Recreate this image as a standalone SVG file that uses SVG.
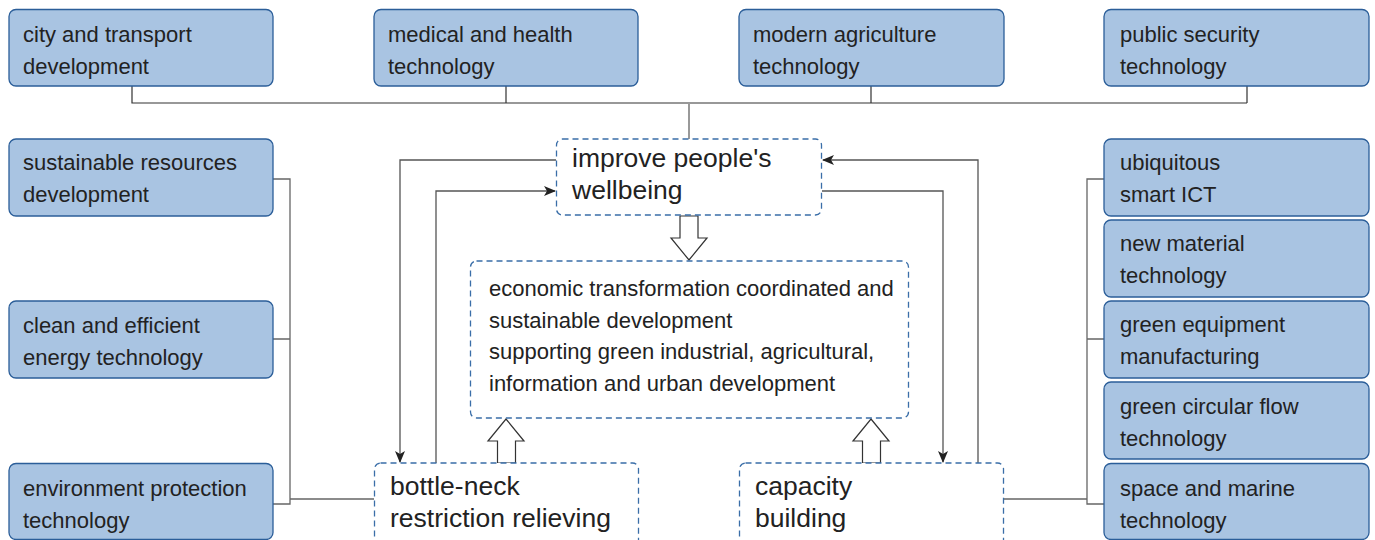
<svg xmlns="http://www.w3.org/2000/svg" width="1375" height="540" viewBox="0 0 1375 540">
<defs>
<style>
.box{fill:#a9c4e2;stroke:#2b5e99;stroke-width:1.3}
.dbox{fill:#fff;stroke:#3a6ea8;stroke-width:1.3;stroke-dasharray:6 4}
.t{font-family:"Liberation Sans",Arial,sans-serif;font-size:22px;fill:#222}
.tl{font-family:"Liberation Sans",Arial,sans-serif;font-size:26.5px;fill:#222}
.ln{fill:none;stroke:#333;stroke-width:1.2}
.lg{fill:none;stroke:#666;stroke-width:1.3}
.la{fill:none;stroke:#555;stroke-width:1.3}
.blk{fill:#fff;stroke:#333;stroke-width:1.2}
</style>
<marker id="ah" viewBox="0 0 12 10" refX="11" refY="5" markerWidth="12" markerHeight="10" markerUnits="userSpaceOnUse" orient="auto">
<path d="M0,0 L12,5 L0,10 L3,5 Z" fill="#222"/>
</marker>
</defs>
<rect width="1375" height="540" fill="#fff"/>

<g id="connectors">
<path class="ln" d="M132,86 V103 H1247 M506,86 V103 M871,86 V103 M1247,86 V103"/>
<path d="M689,103 V139" fill="none" stroke="#999" stroke-width="2"/>
<path class="lg" d="M273,179 H290 V504 H273 M273,339 H290 M290,499 H374"/>
<path class="lg" d="M1104,179 H1087 V504 H1104 M1104,339 H1087 M1087,499 H1004"/>
<path class="la" d="M556,160 H400 V462" marker-end="url(#ah)"/>
<path class="la" d="M436,463 V191 H555" marker-end="url(#ah)"/>
<path class="la" d="M978,463 V160 H823" marker-end="url(#ah)"/>
<path class="la" d="M822,191 H943 V462" marker-end="url(#ah)"/>
<polygon class="blk" points="680,216 698,216 698,238 707,238 689,260 671,238 680,238"/>
<polygon class="blk" points="506,419 524,441 515.5,441 515.5,463 497.5,463 497.5,441 488,441"/>
<polygon class="blk" points="871,419 889,441 880.5,441 880.5,463 862.5,463 862.5,441 853,441"/>
</g>

<g id="n-city"><rect class="box" x="9" y="9.5" width="264" height="76.5" rx="7"/><text class="t" x="23" y="42">city and transport</text><text class="t" x="23" y="74">development</text></g>
<g id="n-medical"><rect class="box" x="374" y="9.5" width="264" height="76.5" rx="7"/><text class="t" x="388" y="42">medical and health</text><text class="t" x="388" y="74">technology</text></g>
<g id="n-agri"><rect class="box" x="739" y="9.5" width="265" height="76.5" rx="7"/><text class="t" x="753" y="42">modern agriculture</text><text class="t" x="753" y="74">technology</text></g>
<g id="n-security"><rect class="box" x="1104" y="9.5" width="265" height="76.5" rx="7"/><text class="t" x="1120" y="42">public security</text><text class="t" x="1120" y="74">technology</text></g>

<g id="n-resources"><rect class="box" x="9" y="139" width="264" height="77" rx="7"/><text class="t" x="23" y="170">sustainable resources</text><text class="t" x="23" y="202">development</text></g>
<g id="n-energy"><rect class="box" x="9" y="301" width="264" height="77" rx="7"/><text class="t" x="23" y="333">clean and efficient</text><text class="t" x="23" y="365">energy technology</text></g>
<g id="n-env"><rect class="box" x="9" y="463.5" width="264" height="76" rx="7"/><text class="t" x="23" y="496">environment protection</text><text class="t" x="23" y="528">technology</text></g>

<g id="n-ict"><rect class="box" x="1104" y="139" width="265" height="77" rx="7"/><text class="t" x="1120" y="170">ubiquitous</text><text class="t" x="1120" y="202">smart ICT</text></g>
<g id="n-material"><rect class="box" x="1104" y="220" width="265" height="77" rx="7"/><text class="t" x="1120" y="251">new material</text><text class="t" x="1120" y="283">technology</text></g>
<g id="n-equip"><rect class="box" x="1104" y="301" width="265" height="77" rx="7"/><text class="t" x="1120" y="332">green equipment</text><text class="t" x="1120" y="364">manufacturing</text></g>
<g id="n-circular"><rect class="box" x="1104" y="382" width="265" height="77" rx="7"/><text class="t" x="1120" y="414">green circular flow</text><text class="t" x="1120" y="446">technology</text></g>
<g id="n-space"><rect class="box" x="1104" y="463.5" width="265" height="76" rx="7"/><text class="t" x="1120" y="496">space and marine</text><text class="t" x="1120" y="528">technology</text></g>

<g id="n-wellbeing"><rect class="dbox" x="556.5" y="139" width="265" height="76" rx="6"/><text class="tl" x="572" y="167">improve people's</text><text class="tl" x="572" y="199">wellbeing</text></g>
<g id="n-economic"><rect class="dbox" x="470.5" y="261" width="438" height="157" rx="6"/><text class="t" x="489" y="296">economic transformation coordinated and</text><text class="t" x="489" y="328">sustainable development</text><text class="t" x="489" y="359">supporting green industrial, agricultural,</text><text class="t" x="489" y="391">information and urban development</text></g>
<g id="n-bottleneck"><rect class="dbox" x="374.5" y="463" width="264" height="90" rx="6"/><text class="tl" x="390" y="495">bottle-neck</text><text class="tl" x="390" y="527">restriction relieving</text></g>
<g id="n-capacity"><rect class="dbox" x="739.5" y="463" width="264" height="90" rx="6"/><text class="tl" x="755" y="495">capacity</text><text class="tl" x="755" y="527">building</text></g>
</svg>
